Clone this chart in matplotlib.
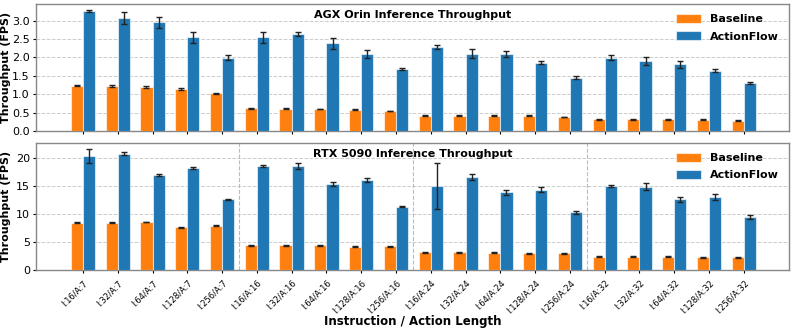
import numpy as np
import matplotlib.pyplot as plt

labels = ["I:16/A:7", "I:32/A:7", "I:64/A:7", "I:128/A:7", "I:256/A:7",
          "I:16/A:16", "I:32/A:16", "I:64/A:16", "I:128/A:16", "I:256/A:16",
          "I:16/A:24", "I:32/A:24", "I:64/A:24", "I:128/A:24", "I:256/A:24",
          "I:16/A:32", "I:32/A:32", "I:64/A:32", "I:128/A:32", "I:256/A:32"]

# AGX Orin
orin_base = [1.23, 1.22, 1.20, 1.14, 1.02, 0.62, 0.61, 0.60, 0.58, 0.54,
             0.42, 0.42, 0.42, 0.42, 0.38, 0.32, 0.32, 0.32, 0.31, 0.28]
orin_base_err = [0.02, 0.02, 0.02, 0.02, 0.015, 0.01, 0.01, 0.01, 0.01, 0.01,
                 0.01, 0.01, 0.01, 0.01, 0.01, 0.01, 0.01, 0.01, 0.01, 0.01]
orin_af = [3.25, 3.07, 2.95, 2.54, 1.99, 2.54, 2.64, 2.38, 2.09, 1.69,
           2.28, 2.10, 2.10, 1.86, 1.45, 1.99, 1.90, 1.81, 1.64, 1.30]
orin_af_err = [0.03, 0.17, 0.14, 0.14, 0.07, 0.16, 0.06, 0.14, 0.10, 0.02,
               0.05, 0.12, 0.08, 0.03, 0.05, 0.07, 0.11, 0.10, 0.05, 0.03]

# RTX 5090
rtx_base = [8.45, 8.45, 8.57, 7.61, 7.91, 4.39, 4.39, 4.39, 4.16, 4.20,
            3.14, 3.14, 3.10, 2.96, 2.96, 2.37, 2.37, 2.37, 2.25, 2.25]
rtx_base_err = [0.06, 0.05, 0.06, 0.05, 0.06, 0.05, 0.05, 0.05, 0.05, 0.05,
                0.04, 0.04, 0.04, 0.04, 0.04, 0.04, 0.04, 0.04, 0.04, 0.04]
rtx_af = [20.36, 20.77, 16.96, 18.27, 12.60, 18.57, 18.57, 15.40, 16.07, 11.30,
          15.00, 16.60, 13.86, 14.34, 10.29, 14.93, 14.88, 12.61, 13.03, 9.52]
rtx_af_err = [1.2, 0.24, 0.2, 0.2, 0.1, 0.24, 0.6, 0.33, 0.3, 0.1,
              4.05, 0.54, 0.39, 0.39, 0.24, 0.18, 0.57, 0.42, 0.45, 0.33]

C_BASE = "#ff7f0e"
C_AF = "#1f77b4"

fig = plt.figure(figsize=(7.93, 3.30), dpi=100)
ax1 = fig.add_axes([0.0454, 0.603, 0.9496, 0.385])
ax2 = fig.add_axes([0.0454, 0.182, 0.9496, 0.385])

x = np.arange(len(labels))
w = 0.35


def draw(ax, base, base_err, af, af_err, title, ymax, yticks):
    ax.bar(x - w / 2, base, w, yerr=base_err, color=C_BASE, label="Baseline",
           edgecolor=(1, 1, 1, 0.6), linewidth=0.8, capsize=2.5,
           error_kw=dict(ecolor="#222222", elinewidth=1.0, capthick=1.0), zorder=3)
    ax.bar(x + w / 2, af, w, yerr=af_err, color=C_AF, label="ActionFlow",
           edgecolor=(1, 1, 1, 0.6), linewidth=0.8, capsize=2.5,
           error_kw=dict(ecolor="#222222", elinewidth=1.0, capthick=1.0), zorder=3)
    ax.set_xlim(-1.35, 20.3)
    ax.set_ylim(0, ymax)
    ax.set_yticks(yticks)
    ax.yaxis.grid(True, linestyle="--", color="#cccccc", linewidth=0.7, zorder=0)
    ax.set_axisbelow(True)
    ax.set_xticks(x)
    ax.set_ylabel("Throughput (FPS)", fontsize=8, fontweight="bold")
    ax.yaxis.set_label_coords(-0.033, 0.5)
    ax.tick_params(axis="y", labelsize=8, length=2.5, pad=2)
    ax.tick_params(axis="x", length=2.5)
    ax.text(0.5, 0.955, title, transform=ax.transAxes, ha="center", va="top",
            fontsize=8, fontweight="bold")
    ax.legend(loc="upper right", frameon=False, prop=dict(size=8, weight="bold"),
              handlelength=2.3, handleheight=0.9, borderaxespad=0.5, labelspacing=0.6)
    for s in ax.spines.values():
        s.set_color("#888888")
        s.set_linewidth(1.0)


draw(ax1, orin_base, orin_base_err, orin_af, orin_af_err,
     "AGX Orin Inference Throughput", 3.45, [0, 0.5, 1.0, 1.5, 2.0, 2.5, 3.0])
ax1.set_xticklabels([])

draw(ax2, rtx_base, rtx_base_err, rtx_af, rtx_af_err,
     "RTX 5090 Inference Throughput", 22.7, [0, 5, 10, 15, 20])
for b in [4.5, 9.5, 14.5]:
    ax2.axvline(b, color="#bbbbbb", linestyle="--", linewidth=0.8, zorder=1)
ax2.set_xticklabels(labels, rotation=45, ha="right", fontsize=6, rotation_mode="anchor")
ax2.set_xlabel("Instruction / Action Length", fontsize=8.5, fontweight="bold", labelpad=0)

plt.savefig("out.png", dpi=100)
